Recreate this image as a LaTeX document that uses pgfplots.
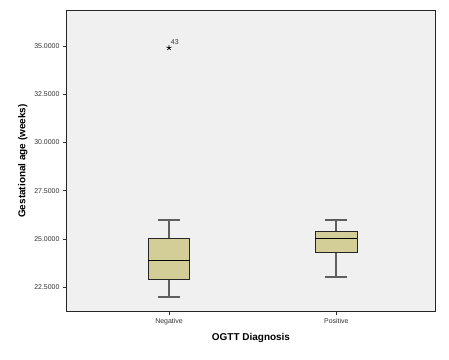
\documentclass[border=0pt]{standalone}
\usepackage{pgfplots}
\pgfplotsset{compat=1.18}
\usepgfplotslibrary{statistics}
\usepackage{fontspec}
\setmainfont{Liberation Sans}
\definecolor{bgplot}{RGB}{240,240,240}
\definecolor{boxfill}{RGB}{211,206,152}
\definecolor{whisk}{RGB}{95,95,95}
\begin{document}
\begin{tikzpicture}[x=1bp,y=1bp]
\begin{axis}[
  scale only axis,
  width=368bp, height=300bp,
  xmin=0.39, xmax=2.59,
  ymin=21.26, ymax=36.81,
  axis background/.style={fill=bgplot},
  axis line style={line width=1bp, black!85},
  xtick={1,2}, xticklabels={Negative,Positive},
  ytick={22.5,25,27.5,30,32.5,35},
  yticklabel style={/pgf/number format/fixed, /pgf/number format/fixed zerofill, /pgf/number format/precision=4, /pgf/number format/1000 sep={}},
  /pgf/number format/assume math mode=true,
  tick align=outside, major tick length=4bp,
  tick style={black!80, line width=0.6bp},
  xtick pos=bottom, ytick pos=left,
  ticklabel style={font=\fontsize{7}{8}\selectfont, text=black!80},
  xlabel={\textbf{OGTT Diagnosis}},
  ylabel={\textbf{Gestational age (weeks)}},
  label style={font=\fontsize{10}{12}\selectfont},
  xlabel style={yshift=-1bp},
  ylabel style={yshift=0bp},
  boxplot/draw direction=y,
  clip=false,
]
\addplot[line width=2bp, draw=whisk, boxplot prepared={median=23.9, upper quartile=25.0, lower quartile=22.9, upper whisker=26.0, lower whisker=22.0, draw position=1, box extend=0.25, whisker extend=0.13},
  boxplot/every box/.style={draw=black!85, fill=boxfill, line width=1bp},
  boxplot/every median/.style={draw=black, line width=1bp},
  mark=star, mark size=2.7bp, mark options={black, fill=black, line width=0.7bp}]
  coordinates {(0,34.9)};
\addplot[line width=2bp, draw=whisk, boxplot prepared={median=25.03, upper quartile=25.4, lower quartile=24.3, upper whisker=26.0, lower whisker=23.0, draw position=2, box extend=0.25, whisker extend=0.13},
  boxplot/every box/.style={draw=black!85, fill=boxfill, line width=1bp},
  boxplot/every median/.style={draw=black, line width=1bp}]
  coordinates {};
\node[anchor=south west, font=\fontsize{7}{8}\selectfont, text=black!80, inner sep=0pt] at (axis cs:1.01,35.05) {43};
\end{axis}
\pgfresetboundingbox
\path ([shift={(-67bp,-49bp)}]current axis.south west) rectangle ([shift={(14bp,11bp)}]current axis.north east);
\end{tikzpicture}
\end{document}
